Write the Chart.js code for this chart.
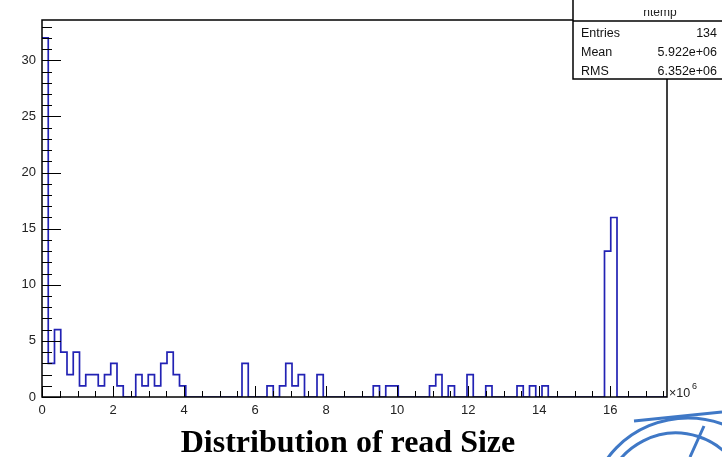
<!DOCTYPE html>
<html>
<head>
<meta charset="utf-8">
<title>Distribution of read Size</title>
<script src="https://cdn.jsdelivr.net/npm/chart.js@4/dist/chart.umd.min.js"></script>
<style>
  html, body { margin: 0; padding: 0; background: #fff; }
</style>
</head>
<body>
<canvas id="readSizeChart" width="722" height="457"></canvas>
<script>
// htemp: 100 equal bins between xLow and xHigh (bytes)
var histName = 'htemp';
var histTitle = 'Distribution of read Size';
var xLow = 0;
var xHigh = 17.6e6;
var binCounts = [
    32, 3, 6, 4, 2, 4, 1, 2, 2, 1,    // 0-9
    2, 3, 1, 0, 0, 2, 1, 2, 1, 3,     // 10-19
    4, 2, 1, 0, 0, 0, 0, 0, 0, 0,     // 20-29
    0, 0, 3, 0, 0, 0, 1, 0, 1, 3,     // 30-39
    1, 2, 0, 0, 2, 0, 0, 0, 0, 0,     // 40-49
    0, 0, 0, 1, 0, 1, 1, 0, 0, 0,     // 50-59
    0, 0, 1, 2, 0, 1, 0, 0, 2, 0,     // 60-69
    0, 1, 0, 0, 0, 0, 1, 0, 1, 0,     // 70-79
    1, 0, 0, 0, 0, 0, 0, 0, 0, 0,     // 80-89
    13, 16, 0, 0, 0, 0, 0, 0, 0, 0    // 90-99
];
var statLabels = ['Entries', 'Mean', 'RMS'];
var statValues = ['134', '5.922e+06', '6.352e+06'];
var xTickValues = [0, 2e6, 4e6, 6e6, 8e6, 10e6, 12e6, 14e6, 16e6];
var yTickValues = [0, 5, 10, 15, 20, 25, 30];
var yMax = 33.6;

document.addEventListener('DOMContentLoaded', function () {
    var sansFont = "'Liberation Sans', Arial, Helvetica, sans-serif";
    var histColor = '#2222b4';
    var xMinorStep = 0.5e6;

    // outline of the histogram: both corners of every bin
    function histOutline(counts) {
        var w = (xHigh - xLow) / counts.length;
        var pts = [];
        for (var i = 0; i < counts.length; i++) {
            pts.push({ x: xLow + i * w, y: counts[i] });
            pts.push({ x: xLow + (i + 1) * w, y: counts[i] });
        }
        return pts;
    }

    function fixedTicks(values) {
        return function (scale) {
            scale.ticks = values.map(function (v) { return { value: v }; });
        };
    }

    // frame, inward ticks, stats box, title and logo in the ROOT style
    var rootPad = {
        id: 'rootPad',
        afterDraw: function (chart) {
            var ctx = chart.ctx;
            var a = chart.chartArea;
            var xs = chart.scales.x;
            var ys = chart.scales.y;
            ctx.save();

            ctx.strokeStyle = '#000';
            ctx.lineWidth = 1;
            ctx.beginPath();
            for (var v = 0; v <= yMax; v += 1) {
                var py = Math.round(ys.getPixelForValue(v)) + 0.5;
                var len = (yTickValues.indexOf(v) >= 0) ? 19 : 10;
                ctx.moveTo(a.left, py);
                ctx.lineTo(a.left + len, py);
            }
            for (var xv = xLow; xv <= xHigh; xv += xMinorStep) {
                var px = Math.round(xs.getPixelForValue(xv)) + 0.5;
                var len2 = (xTickValues.indexOf(xv) >= 0) ? 11 : 6;
                ctx.moveTo(px, a.bottom);
                ctx.lineTo(px, a.bottom - len2);
            }
            ctx.stroke();

            ctx.lineWidth = 1.5;
            ctx.strokeRect(a.left, a.top, a.right - a.left, a.bottom - a.top);

            // axis exponent
            ctx.fillStyle = '#222';
            ctx.textAlign = 'left';
            ctx.textBaseline = 'alphabetic';
            ctx.font = '12.5px ' + sansFont;
            ctx.fillText('\u00d710', a.right + 2, a.bottom);
            ctx.font = '9px ' + sansFont;
            ctx.fillText('6', a.right + 25, a.bottom - 8);

            // stats box
            var bx = 573, bHead = 21, bBottom = 79;
            ctx.fillStyle = '#fff';
            ctx.fillRect(bx, -2, chart.width - bx + 2, bBottom + 2);
            ctx.lineWidth = 1.5;
            ctx.strokeRect(bx, -2, chart.width - bx + 4, bBottom + 2);
            ctx.beginPath();
            ctx.moveTo(bx, bHead);
            ctx.lineTo(chart.width, bHead);
            ctx.stroke();

            ctx.save();
            ctx.beginPath();
            ctx.rect(bx, 10, chart.width - bx, bHead - 10);
            ctx.clip();
            ctx.fillStyle = '#222';
            ctx.textAlign = 'center';
            ctx.font = '12px ' + sansFont;
            ctx.fillText(histName, 660, 16);
            ctx.restore();

            ctx.fillStyle = '#111';
            ctx.font = '12.5px ' + sansFont;
            for (var r = 0; r < statLabels.length; r++) {
                var by = 37 + r * 19;
                ctx.textAlign = 'left';
                ctx.fillText(statLabels[r], 581, by);
                ctx.textAlign = 'right';
                ctx.fillText(statValues[r], 717, by);
            }

            // title under the pad
            ctx.fillStyle = '#000';
            ctx.textAlign = 'center';
            ctx.font = "bold 32px 'Liberation Serif', 'Times New Roman', serif";
            ctx.fillText(histTitle, 348, 452);

            // lab logo in the corner
            ctx.strokeStyle = '#3f78c6';
            ctx.lineWidth = 3;
            ctx.beginPath();
            ctx.ellipse(688, 512, 98, 94, 0, Math.PI * 1.12, Math.PI * 1.62);
            ctx.stroke();
            ctx.beginPath();
            ctx.ellipse(676, 505, 72, 72, 0, Math.PI * 1.1, Math.PI * 1.75);
            ctx.stroke();
            ctx.beginPath();
            ctx.moveTo(634, 421);
            ctx.lineTo(722, 412);
            ctx.moveTo(704, 426);
            ctx.lineTo(690, 457);
            ctx.stroke();

            ctx.restore();
        }
    };

    var ctx = document.getElementById('readSizeChart').getContext('2d');
    new Chart(ctx, {
        type: 'line',
        data: {
            datasets: [{
                label: histName,
                data: histOutline(binCounts),
                borderColor: histColor,
                borderWidth: 1.7,
                pointRadius: 0,
                fill: false,
                tension: 0
            }]
        },
        options: {
            responsive: false,
            animation: false,
            layout: { padding: { top: 20, right: 55, left: 0, bottom: 0 } },
            plugins: {
                legend: { display: false },
                tooltip: { enabled: false }
            },
            scales: {
                x: {
                    type: 'linear',
                    min: xLow,
                    max: xHigh,
                    grid: { display: false, drawTicks: false },
                    border: { display: false },
                    afterBuildTicks: fixedTicks(xTickValues),
                    ticks: {
                        autoSkip: false,
                        maxRotation: 0,
                        padding: 6,
                        color: '#222',
                        font: { family: sansFont, size: 13 },
                        callback: function (value) { return value / 1e6; }
                    },
                    afterFit: function (scale) { scale.height = 60; }
                },
                y: {
                    min: 0,
                    max: yMax,
                    grid: { display: false, drawTicks: false },
                    border: { display: false },
                    afterBuildTicks: fixedTicks(yTickValues),
                    ticks: {
                        autoSkip: false,
                        padding: 6,
                        color: '#222',
                        font: { family: sansFont, size: 13 }
                    },
                    afterFit: function (scale) { scale.width = 42; }
                }
            }
        },
        plugins: [rootPad]
    });
});
</script>
</body>
</html>
